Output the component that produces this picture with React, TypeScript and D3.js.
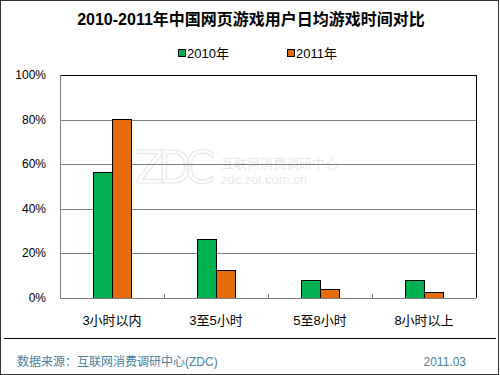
import React, { useEffect } from "react";
import * as d3 from "d3";

const categories = ["3小时以内", "3至5小时", "5至8小时", "8小时以上"];
const seriesNames = ["2010年", "2011年"];
const values2010 = [56.4, 26.3, 7.9, 7.9];
const values2011 = [80.1, 12.4, 3.9, 2.6];
const yTicks = [0, 20, 40, 60, 80, 100];
const colors = ["#00B050", "#E36C09"];

const W = 500;
const H = 375;
const font = "Arial, 'Liberation Sans', 'Noto Sans CJK SC', sans-serif";

export default function App() {
  useEffect(() => {
    document.body.style.margin = "0";
  }, []);

  const left = 60, right = 476, top = 75, bottom = 298;
  const x = d3.scaleBand().domain(categories).range([left, right]);
  const inner = d3.scaleBand().domain(seriesNames).range([0, 38]);
  const y = d3.scaleLinear().domain([0, 100]).range([bottom, top]);
  const series = [values2010, values2011];

  return (
    <svg width={W} height={H} style={{ display: "block", fontFamily: font }}>
      <rect x={0.5} y={0.5} width={W - 2} height={H - 1} fill="#fff" stroke="#333" />
      <text x={251} y={25} textAnchor="middle" fontSize={16} fontWeight="bold" fill="#000">
        2010-2011年中国网页游戏用户日均游戏时间对比
      </text>

      {/* legend */}
      {seriesNames.map((s, i) => (
        <g key={s} transform={`translate(${178 + i * 109},0)`}>
          <rect x={0.5} y={49.5} width={7} height={7} fill={colors[i]} stroke="#000" />
          <text x={9} y={58} fontSize={13} fill="#000">{s}</text>
        </g>
      ))}

      {/* watermark */}
      <g opacity={0.13}>
        <text x={135} y={183} fontSize={44} fill="none" stroke="#555" strokeWidth={1.2} style={{ fontFamily: "'DejaVu Sans', sans-serif" }} textLength={80}>ZDC</text>
        <text x={221} y={168} fontSize={13} fill="#555">互联网消费调研中心</text>
        <text x={221} y={184} fontSize={13} fill="#555">zdc.zol.com.cn</text>
      </g>

      {/* grid */}
      {yTicks.filter(t => t > 0 && t < 100).map(t => (
        <line key={t} x1={left} x2={right} y1={Math.round(y(t)) + 0.5} y2={Math.round(y(t)) + 0.5} stroke="#808080" />
      ))}
      <line x1={left} x2={right} y1={top + 0.5} y2={top + 0.5} stroke="#000" />
      <line x1={right + 0.5} x2={right + 0.5} y1={top} y2={bottom} stroke="#000" />
      <line x1={left + 0.5} x2={left + 0.5} y1={top} y2={bottom} stroke="#808080" />

      {/* bars */}
      {categories.map((c, ci) => (
        <g key={c}>
          {seriesNames.map((s, si) => {
            const bx = (x(c) as number) + x.bandwidth() / 2 - 19 + (inner(s) as number);
            const by = y(series[si][ci]);
            return (
              <rect key={s} x={Math.round(bx) + 0.5} y={Math.round(by) + 0.5} width={inner.bandwidth()}
                height={bottom - Math.round(by)} fill={colors[si]} stroke="#000" />
            );
          })}
        </g>
      ))}

      {/* axes */}
      <line x1={left} x2={right} y1={bottom + 0.5} y2={bottom + 0.5} stroke="#808080" />
      {categories.slice(1).map(c => (
        <line key={c} x1={Math.round(x(c) as number) + 0.5} x2={Math.round(x(c) as number) + 0.5} y1={bottom - 4} y2={bottom} stroke="#808080" />
      ))}
      {yTicks.map(t => (
        <text key={t} x={46} y={y(t) + 4} textAnchor="end" fontSize={12} fill="#000">{t}%</text>
      ))}
      {categories.map(c => (
        <text key={c} x={(x(c) as number) + x.bandwidth() / 2} y={325} textAnchor="middle" fontSize={13} fill="#000">{c}</text>
      ))}

      {/* footer */}
      <line x1={4} x2={496} y1={338.5} y2={338.5} stroke="#000" />
      <text x={17} y={366} fontSize={12} fill="#4A7E9B">数据来源：互联网消费调研中心(ZDC)</text>
      <text x={466} y={366} textAnchor="end" fontSize={12} fill="#4A7E9B">2011.03</text>
    </svg>
  );
}
